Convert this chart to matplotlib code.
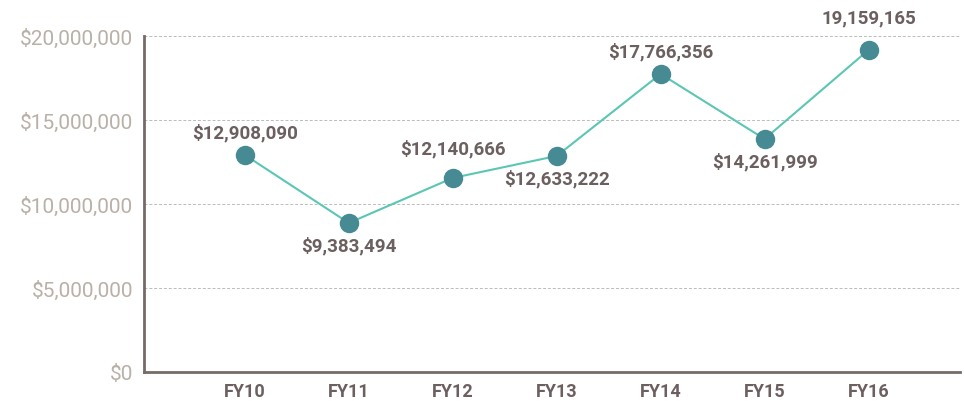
import matplotlib.pyplot as plt
from matplotlib.ticker import FuncFormatter

# Data
years = ["FY10", "FY11", "FY12", "FY13", "FY14", "FY15", "FY16"]
values = [12920000, 8870000, 11550000, 12860000, 17740000, 13870000, 19170000]
labels = ["$12,908,090", "$9,383,494", "$12,140,666", "$12,633,222",
          "$17,766,356", "$14,261,999", "19,159,165"]

# label offsets in points (positive = above the marker)
label_dy = [10, -9, 15, -9, 10, -9, 17]

plt.rcParams['font.family'] = ['Roboto', 'DejaVu Sans']

fig = plt.figure(figsize=(9.64, 4.02), dpi=100)
ax = fig.add_axes([144 / 964, 1 - 373 / 402, (960 - 144) / 964, (373 - 37) / 402])

x = list(range(len(years)))
ax.plot(x, values, color='#5cc6b4', linewidth=1.5, zorder=2)
ax.plot(x, values, 'o', color='#468a93', markersize=14, markeredgewidth=0, zorder=3)

for i, (v, lab) in enumerate(zip(values, labels)):
    dy = label_dy[i]
    va = 'bottom' if dy > 0 else 'top'
    ax.annotate(lab, (i, v), xytext=(0, dy), textcoords='offset points',
                ha='center', va=va, fontsize=13.5, fontweight='bold', color='#6b5f5f',
                annotation_clip=False)

ax.set_xlim(-0.97, 6.88)
ax.set_ylim(0, 20000000)
ax.set_xticks(x)
ax.set_xticklabels(years, fontsize=13, fontweight='bold', color='#6b5f5f')
ax.set_yticks([0, 5000000, 10000000, 15000000, 20000000])
ax.yaxis.set_major_formatter(FuncFormatter(lambda v, p: f"${v:,.0f}"))
ax.tick_params(axis='y', labelsize=15, labelcolor='#b9b0a8', length=0, pad=8)
ax.tick_params(axis='x', length=0, pad=7)

ax.grid(axis='y', linestyle=(0, (3, 2)), color='#bbbbbb', linewidth=0.7)
ax.set_axisbelow(True)
for s in ['top', 'right']:
    ax.spines[s].set_visible(False)
for s in ['left', 'bottom']:
    ax.spines[s].set_color('#756b68')
    ax.spines[s].set_linewidth(2)

fig.savefig("out.png", dpi=100)
